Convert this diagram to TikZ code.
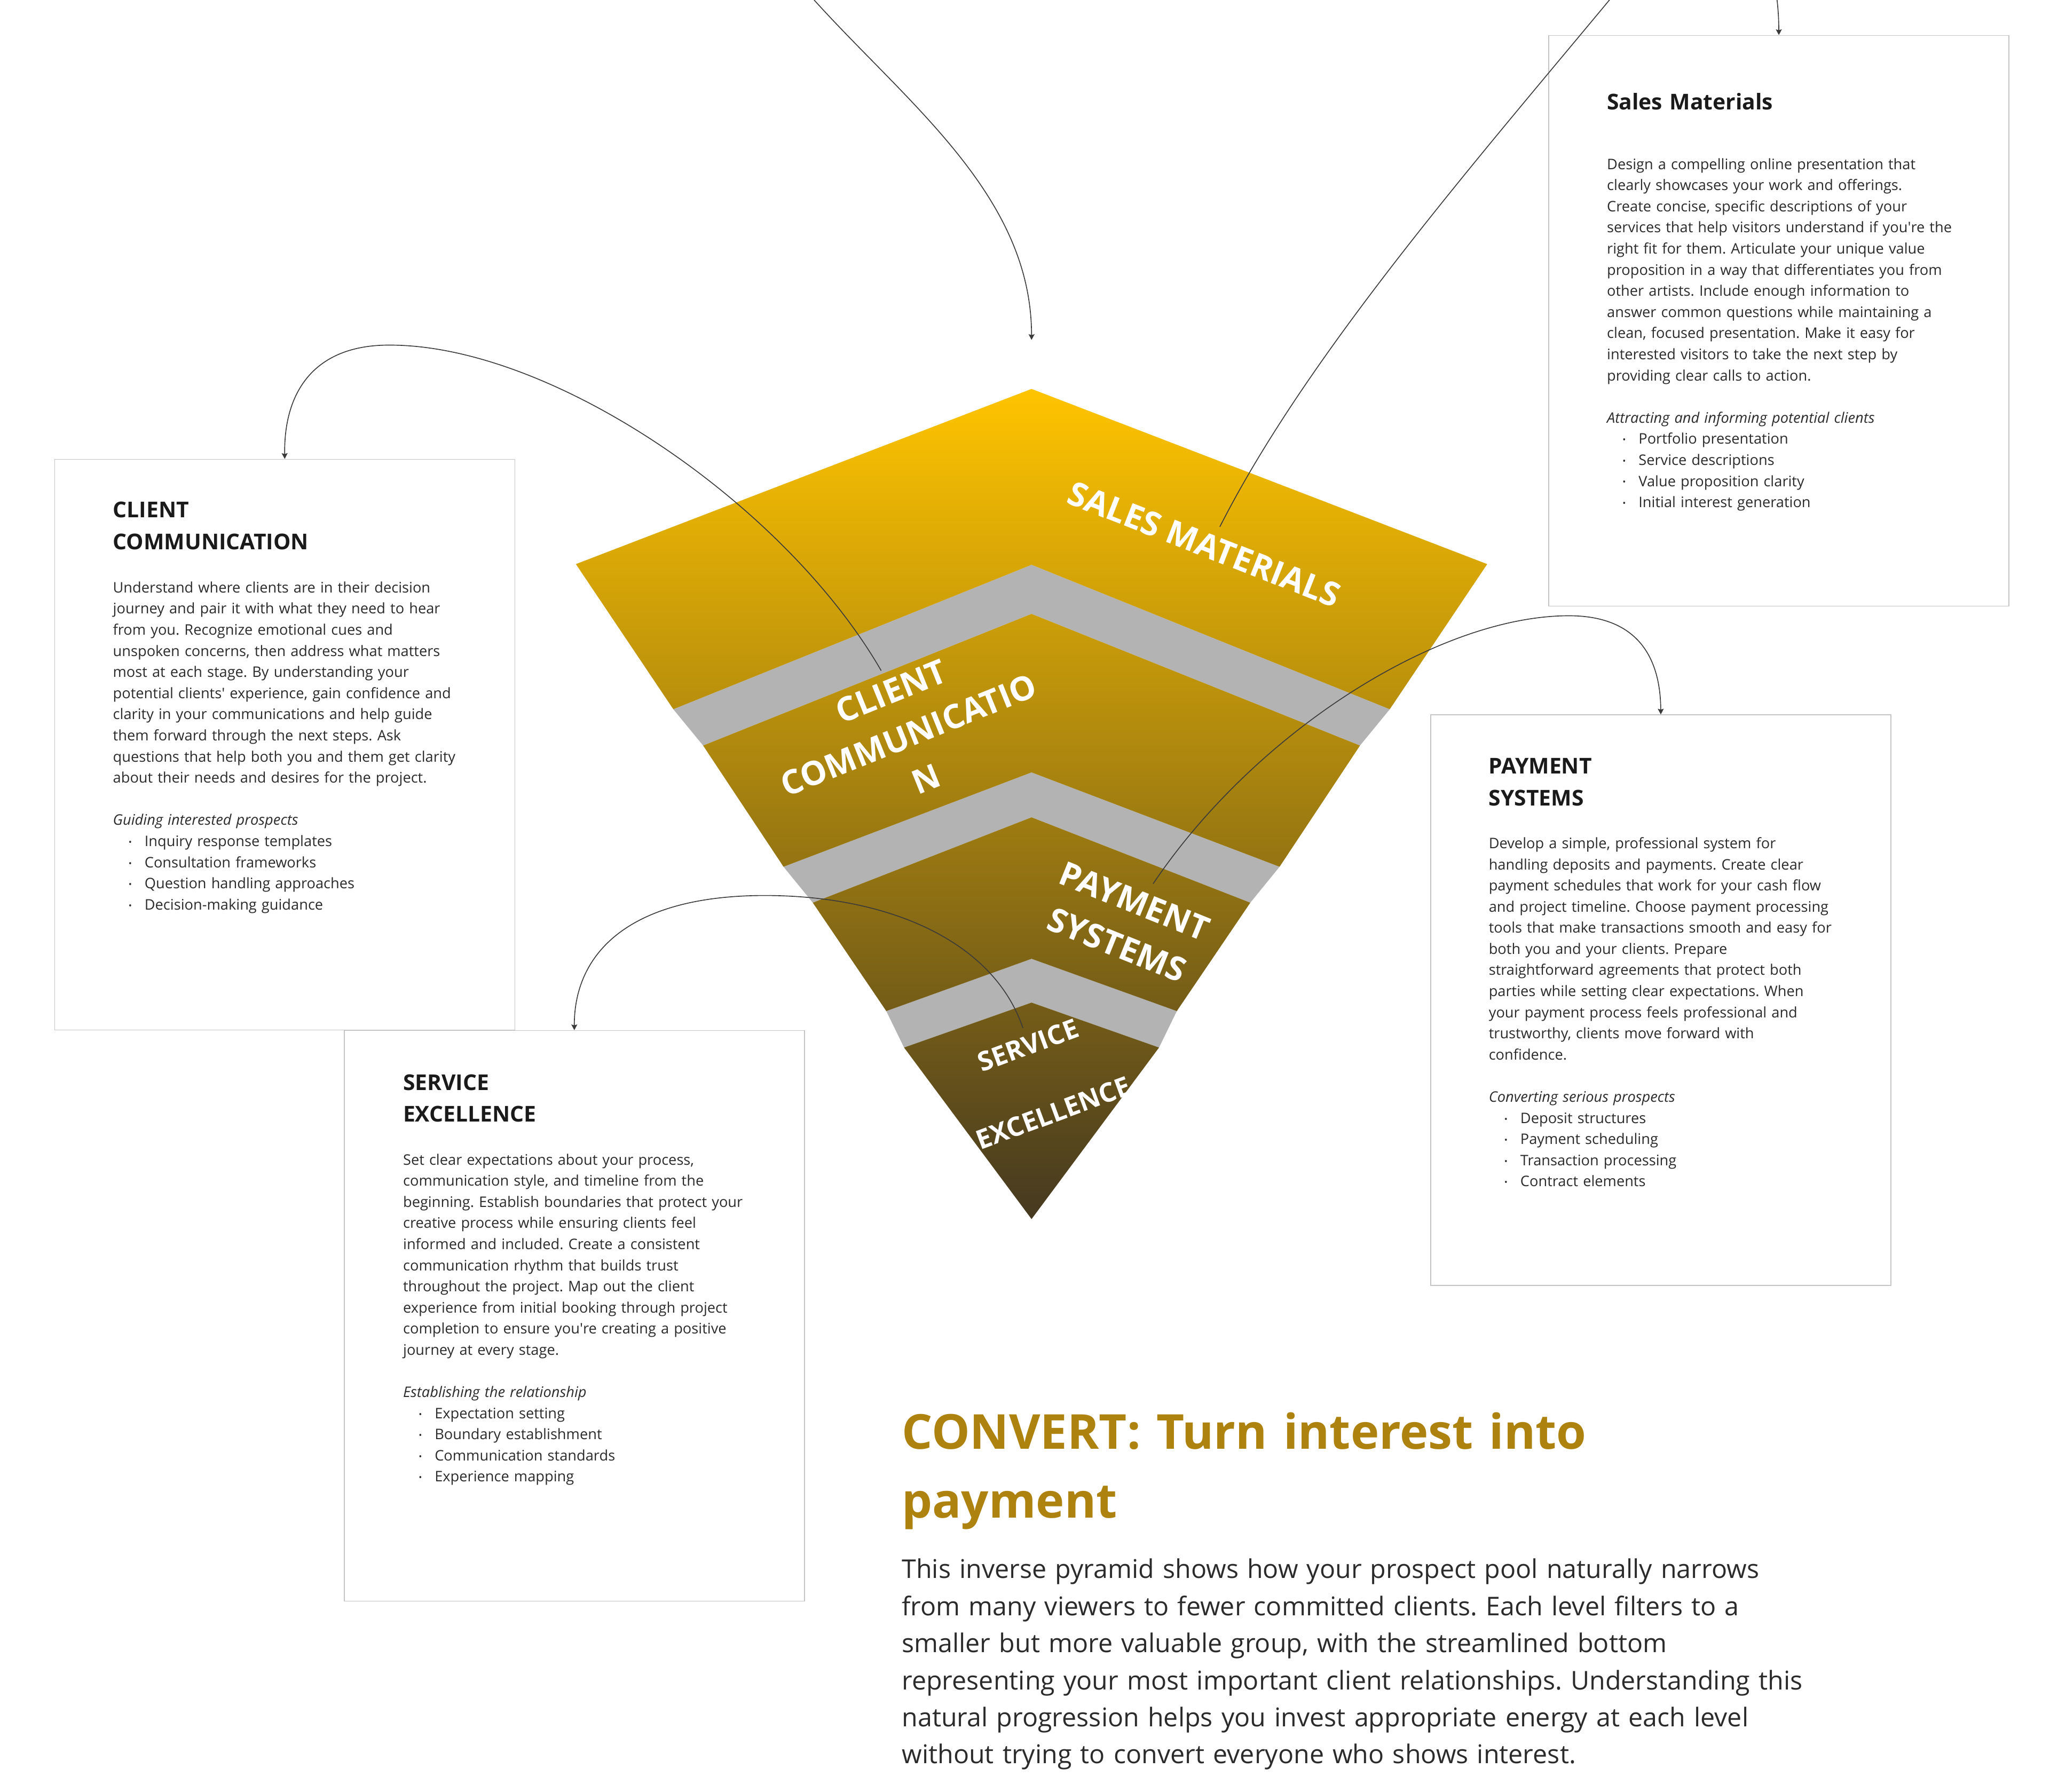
\documentclass[tikz,border=0pt]{standalone}
\usepackage{fontspec}
\setmainfont{Open Sans}
\usetikzlibrary{arrows.meta}
\frenchspacing
\definecolor{gTop}{HTML}{FFC400}
\definecolor{gBot}{HTML}{453920}
\definecolor{bandgrey}{HTML}{B3B3B3}
\definecolor{boxline}{HTML}{C4C4C4}
\definecolor{bodytext}{HTML}{2B2B2B}
\definecolor{titletext}{HTML}{1A1A1A}
\definecolor{headgold}{HTML}{AE820E}
\definecolor{connc}{HTML}{3A3A3A}
\newcommand{\cardbodyfont}{\fontsize{6.67pt}{9.7pt}\selectfont}
\newcommand{\cardtitlefont}{\fontsize{10pt}{14.64pt}\selectfont\bfseries}
\newcommand{\pbul}[1]{\hspace*{7.15pt}\makebox[7.35pt][l]{\fontsize{4pt}{4pt}\selectfont\raisebox{0.5pt}{•}}#1}
\newcommand{\apos}{\textquotesingle}
\tikzset{
  card/.style={draw=boxline, line width=0.35pt, fill=white, anchor=north west,
    minimum width=211.2pt, minimum height=261.9pt, inner sep=0pt},
  cardtitle/.style={anchor=base west, align=left, text width=200pt, inner sep=0pt,
    font=\cardtitlefont, text=titletext},
  cardbody/.style={anchor=base west, align=left, text width=200pt, inner sep=0pt,
    font=\cardbodyfont, text=bodytext},
  plabel/.style={text=white, font=\fontsize{15.3pt}{21.6pt}\selectfont\bfseries,
    align=center, inner sep=0pt},
  connector/.style={draw=connc, line width=0.4pt,
    -{Stealth[length=2.6pt,width=2.7pt,inset=0.4pt]}}
}
\begin{document}
\begin{tikzpicture}[x=0.6pt,y=-0.6pt]
\useasboundingbox (0,0) rectangle (1568,1370.37);
\fill[white] (0,0) rectangle (1568,1370.37);

% ---- pyramid: grey bands ----
\fill[bandgrey] (515,542.5) -- (789,432) -- (1063,542.5) -- (1040.2,570.3) -- (789,469.6) -- (537.8,570.3) -- cycle;
\fill[bandgrey] (599.3,663) -- (789,590.8) -- (978.7,663) -- (956.3,690.5) -- (789,625.2) -- (621.7,690.5) -- cycle;
\fill[bandgrey] (677.9,773.4) -- (789,733.4) -- (900.1,773.4) -- (886.5,801.3) -- (789,766.9) -- (691.5,801.3) -- cycle;

% ---- pyramid: gold layers (one shading) ----
\shade[top color=gTop, bottom color=gBot]
  (440.5,431.5) -- (789,297.5) -- (1137.5,431.5) -- (1063,542.5) -- (789,432) -- (515,542.5) -- cycle
  (537.8,570.3) -- (789,469.6) -- (1040.2,570.3) -- (978.7,663) -- (789,590.8) -- (599.3,663) -- cycle
  (621.7,690.5) -- (789,625.2) -- (956.3,690.5) -- (900.1,773.4) -- (789,733.4) -- (677.9,773.4) -- cycle
  (691.5,801.3) -- (789,766.9) -- (886.5,801.3) -- (789,932.5) -- cycle;

% ---- pyramid labels ----
\node[plabel, rotate=-21.4] (lblSales) at (921,416.3) {SALES MATERIALS};
\node[plabel, rotate=22] (lblClient) at (694.9,562.2) {CLIENT\\COMMUNICATIO\\N};
\node[plabel, rotate=-22] (lblPay) at (861,706.2) {PAYMENT\\SYSTEMS};
\node[plabel, rotate=20.3, font=\fontsize{12.2pt}{33.2pt}\selectfont\bfseries] (lblServ) at (796,825.5) {SERVICE\\EXCELLENCE};

% ---- cards ----
\node[card] (salesBox) at (1184.3,26.8) {};
\node[card] (clientBox) at (41.5,351) {};
\node[card] (payBox) at (1094,546.5) {};
\node[card] (servBox) at (263,788) {};

\node[cardtitle] (salesTitle) at (1228.8,84) {Sales Materials};
\node[cardbody] (salesBody) at (1228.8,129.5) {Design a compelling online presentation that\\
clearly showcases your work and offerings.\\
Create concise, specific descriptions of your\\
services that help visitors understand if you\apos re the\\
right fit for them. Articulate your unique value\\
proposition in a way that differentiates you from\\
other artists. Include enough information to\\
answer common questions while maintaining a\\
clean, focused presentation. Make it easy for\\
interested visitors to take the next step by\\
providing clear calls to action.\\[9.7pt]
\textit{Attracting and informing potential clients}\\
\pbul{Portfolio presentation}\\
\pbul{Service descriptions}\\
\pbul{Value proposition clarity}\\
\pbul{Initial interest generation}};

\node[cardtitle] (clientTitle) at (86.1,395.8) {CLIENT\\COMMUNICATION};
\node[cardbody] (clientBody) at (86.1,453.4) {Understand where clients are in their decision\\
journey and pair it with what they need to hear\\
from you. Recognize emotional cues and\\
unspoken concerns, then address what matters\\
most at each stage. By understanding your\\
potential clients\apos\ experience, gain confidence and\\
clarity in your communications and help guide\\
them forward through the next steps. Ask\\
questions that help both you and them get clarity\\
about their needs and desires for the project.\\[9.7pt]
\textit{Guiding interested prospects}\\
\pbul{Inquiry response templates}\\
\pbul{Consultation frameworks}\\
\pbul{Question handling approaches}\\
\pbul{Decision-making guidance}};

\node[cardtitle] (payTitle) at (1138.4,591.9) {PAYMENT\\SYSTEMS};
\node[cardbody] (payBody) at (1138.4,649) {Develop a simple, professional system for\\
handling deposits and payments. Create clear\\
payment schedules that work for your cash flow\\
and project timeline. Choose payment processing\\
tools that make transactions smooth and easy for\\
both you and your clients. Prepare\\
straightforward agreements that protect both\\
parties while setting clear expectations. When\\
your payment process feels professional and\\
trustworthy, clients move forward with\\
confidence.\\[9.7pt]
\textit{Converting serious prospects}\\
\pbul{Deposit structures}\\
\pbul{Payment scheduling}\\
\pbul{Transaction processing}\\
\pbul{Contract elements}};

\node[cardtitle] (servTitle) at (308,833.9) {SERVICE\\EXCELLENCE};
\node[cardbody] (servBody) at (308,891) {Set clear expectations about your process,\\
communication style, and timeline from the\\
beginning. Establish boundaries that protect your\\
creative process while ensuring clients feel\\
informed and included. Create a consistent\\
communication rhythm that builds trust\\
throughout the project. Map out the client\\
experience from initial booking through project\\
completion to ensure you\apos re creating a positive\\
journey at every stage.\\[9.7pt]
\textit{Establishing the relationship}\\
\pbul{Expectation setting}\\
\pbul{Boundary establishment}\\
\pbul{Communication standards}\\
\pbul{Experience mapping}};

% ---- bottom heading and paragraph ----
\node[anchor=base west, align=left, text width=420pt, inner sep=0pt, text=headgold,
  font=\fontsize{22.1pt}{31.56pt}\selectfont\bfseries] (heading) at (689.5,1108.5)
  {CONVERT: Turn interest into\\payment};
\node[anchor=base west, align=left, text width=460pt, inner sep=0pt, text=bodytext,
  font=\fontsize{11.85pt}{17pt}\selectfont] (summary) at (689.5,1207.4)
  {This inverse pyramid shows how your prospect pool naturally narrows\\
from many viewers to fewer committed clients. Each level filters to a\\
smaller but more valuable group, with the streamlined bottom\\
representing your most important client relationships. Understanding this\\
natural progression helps you invest appropriate energy at each level\\
without trying to convert everyone who shows interest.};

% ---- connectors ----
\coordinate (topIn) at (622.7,0);
\coordinate (apexIn) at (789,260);
\coordinate (smFrom) at (933,403);
\coordinate (ccFrom) at (674,513);
\coordinate (psFrom) at (882,676);
\coordinate (seFrom) at (782.4,786.4);

\draw[connector] (topIn) .. controls (695,80) and (789,150) .. (apexIn);
\draw[connector] (smFrom) .. controls (999,273) and (1123,130) .. (1231,0)
  .. controls (1297,-80) and (1360,-80) .. (salesBox.north);
\draw[connector] (ccFrom) .. controls (600,385) and (420,262) .. (295,264)
  .. controls (240,265) and (217,300) .. (clientBox.north);
\draw[connector] (psFrom) .. controls (960,560) and (1100,471) .. (1200,471)
  .. controls (1250,471) and (1270,500) .. (payBox.north);
\draw[connector] (seFrom) .. controls (760,720) and (680,685) .. (585,685)
  .. controls (480,685) and (439,730) .. (servBox.north);
\end{tikzpicture}
\end{document}
